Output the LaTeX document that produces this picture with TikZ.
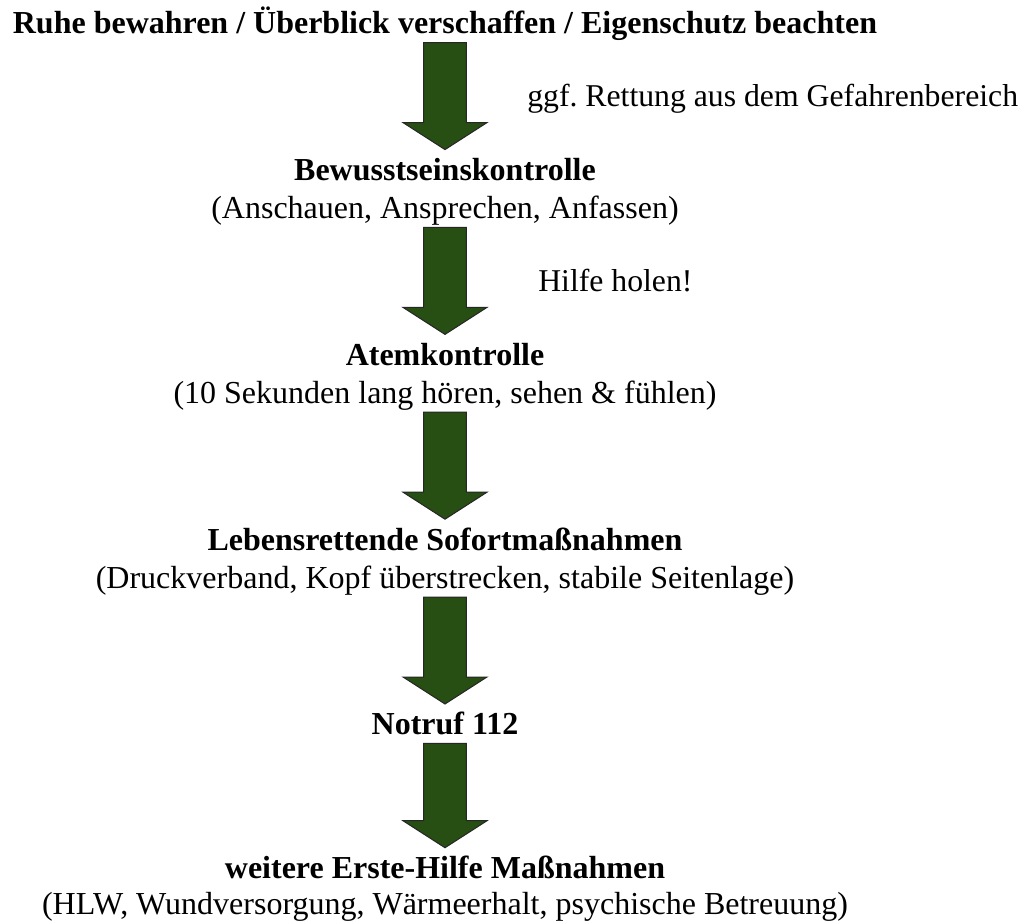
\documentclass[tikz,border=0pt]{standalone}
\usepackage{fontspec}
\setmainfont{Liberation Serif}
\usepackage{tikz}
\usetikzlibrary{positioning, calc}
\definecolor{darkgreen}{RGB}{39,78,19}
\frenchspacing
\tikzstyle{headline} = [font=\fontsize{24pt}{28.4pt}\selectfont\bfseries, inner sep=0pt, text height=19.9pt, text depth=8.5pt]
\tikzstyle{subline} = [font=\fontsize{24pt}{28.4pt}\selectfont, inner sep=0pt, text height=19.9pt, text depth=8.5pt]
\tikzstyle{note} = [font=\fontsize{23.8pt}{28.4pt}\selectfont, inner sep=0pt, anchor=base west]
\tikzstyle{blockarrow} = [draw=black!85, line width=0.75pt, fill=darkgreen,
    to path={let \p1=(\tikztostart), \p2=(\tikztotarget) in
      (\x1-16.1pt,\y1+2.25pt) -- (\x1+16.1pt,\y1+2.25pt) -- (\x1+16.1pt,\y2+23.25pt)
      -- (\x1+31.5pt,\y2+23.25pt) -- (\x1,\y2+3pt) -- (\x1-31.5pt,\y2+23.25pt)
      -- (\x1-16.1pt,\y2+23.25pt) -- cycle}]

\begin{document}
\begin{tikzpicture}[x=0.75pt, y=-0.75pt, node distance=81pt]
\useasboundingbox (0,0) rectangle (1029,924);

\node (rb) [headline, anchor=base] at (445,34) {Ruhe bewahren / Überblick verschaffen / Eigenschutz beachten};
\node (bw) [headline, below=of rb] {Bewusstseinskontrolle};
\node (bwsub) [subline, below=0pt of bw] {(Anschauen, Ansprechen, Anfassen)};
\node (ak) [headline, below=of bwsub] {Atemkontrolle};
\node (aksub) [subline, below=0pt of ak] {(10 Sekunden lang hören, sehen \& fühlen)};
\node (lm) [headline, below=of aksub] {Lebensrettende Sofortmaßnahmen};
\node (lmsub) [subline, below=0pt of lm] {(Druckverband, Kopf überstrecken, stabile Seitenlage)};
\node (nr) [headline, below=of lmsub] {Notruf 112};
\node (eh) [headline, below=79pt of nr] {weitere Erste-Hilfe Maßnahmen};
\node (ehsub) [subline, text depth=5pt, below=-1.5pt of eh] {(HLW, Wundversorgung, Wärmeerhalt, psychische Betreuung)};

\node (rettung) [note] at (527,107) {ggf. Rettung aus dem Gefahrenbereich};
\node (hilfe) [note] at (538,291) {Hilfe holen!};

\draw [blockarrow] (rb.south) to (bw.north);
\draw [blockarrow] (bwsub.south) to (ak.north);
\draw [blockarrow] (aksub.south) to (lm.north);
\draw [blockarrow] (lmsub.south) to (nr.north);
\draw [blockarrow] (nr.south) to (eh.north);

\end{tikzpicture}
\end{document}
